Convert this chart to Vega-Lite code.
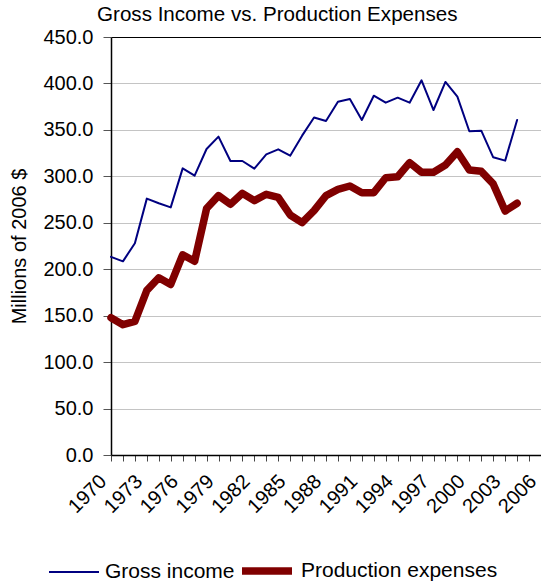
{
  "$schema": "https://vega.github.io/schema/vega-lite/v6.json",
  "width": 430,
  "height": 418,
  "autosize": {"type": "none"},
  "padding": {"left": 111, "top": 37, "right": 0, "bottom": 127},
  "background": "white",
  "config": {
    "font": "Liberation Sans",
    "view": {"stroke": null},
    "legend": {"padding": 0}
  },
  "title": {
    "text": "Gross Income vs. Production Expenses",
    "fontSize": 20.6,
    "fontWeight": "normal",
    "color": "black",
    "anchor": "start",
    "frame": "group",
    "dx": -14,
    "offset": 1
  },
  "data": {
    "values": [
      {"year": 1970, "series": "Gross income", "value": 213.3},
      {"year": 1971, "series": "Gross income", "value": 208.5},
      {"year": 1972, "series": "Gross income", "value": 228.0},
      {"year": 1973, "series": "Gross income", "value": 276.0},
      {"year": 1974, "series": "Gross income", "value": 271.0},
      {"year": 1975, "series": "Gross income", "value": 266.6},
      {"year": 1976, "series": "Gross income", "value": 308.6},
      {"year": 1977, "series": "Gross income", "value": 300.7},
      {"year": 1978, "series": "Gross income", "value": 329.4},
      {"year": 1979, "series": "Gross income", "value": 342.7},
      {"year": 1980, "series": "Gross income", "value": 316.5},
      {"year": 1981, "series": "Gross income", "value": 316.5},
      {"year": 1982, "series": "Gross income", "value": 308.3},
      {"year": 1983, "series": "Gross income", "value": 323.7},
      {"year": 1984, "series": "Gross income", "value": 329.1},
      {"year": 1985, "series": "Gross income", "value": 322.2},
      {"year": 1986, "series": "Gross income", "value": 343.8},
      {"year": 1987, "series": "Gross income", "value": 363.3},
      {"year": 1988, "series": "Gross income", "value": 359.6},
      {"year": 1989, "series": "Gross income", "value": 380.4},
      {"year": 1990, "series": "Gross income", "value": 383.3},
      {"year": 1991, "series": "Gross income", "value": 360.7},
      {"year": 1992, "series": "Gross income", "value": 386.8},
      {"year": 1993, "series": "Gross income", "value": 379.3},
      {"year": 1994, "series": "Gross income", "value": 384.7},
      {"year": 1995, "series": "Gross income", "value": 379.3},
      {"year": 1996, "series": "Gross income", "value": 403.4},
      {"year": 1997, "series": "Gross income", "value": 371.4},
      {"year": 1998, "series": "Gross income", "value": 401.6},
      {"year": 1999, "series": "Gross income", "value": 385.8},
      {"year": 2000, "series": "Gross income", "value": 348.5},
      {"year": 2001, "series": "Gross income", "value": 349.2},
      {"year": 2002, "series": "Gross income", "value": 320.5},
      {"year": 2003, "series": "Gross income", "value": 316.9},
      {"year": 2004, "series": "Gross income", "value": 360.7},
      {"year": 1970, "series": "Production expenses", "value": 147.8},
      {"year": 1971, "series": "Production expenses", "value": 140.3},
      {"year": 1972, "series": "Production expenses", "value": 143.9},
      {"year": 1973, "series": "Production expenses", "value": 177.2},
      {"year": 1974, "series": "Production expenses", "value": 190.8},
      {"year": 1975, "series": "Production expenses", "value": 183.6},
      {"year": 1976, "series": "Production expenses", "value": 215.5},
      {"year": 1977, "series": "Production expenses", "value": 208.5},
      {"year": 1978, "series": "Production expenses", "value": 265.3},
      {"year": 1979, "series": "Production expenses", "value": 279.2},
      {"year": 1980, "series": "Production expenses", "value": 269.9},
      {"year": 1981, "series": "Production expenses", "value": 281.7},
      {"year": 1982, "series": "Production expenses", "value": 273.8},
      {"year": 1983, "series": "Production expenses", "value": 280.7},
      {"year": 1984, "series": "Production expenses", "value": 277.4},
      {"year": 1985, "series": "Production expenses", "value": 258.4},
      {"year": 1986, "series": "Production expenses", "value": 250.1},
      {"year": 1987, "series": "Production expenses", "value": 263.0},
      {"year": 1988, "series": "Production expenses", "value": 279.2},
      {"year": 1989, "series": "Production expenses", "value": 286.0},
      {"year": 1990, "series": "Production expenses", "value": 289.6},
      {"year": 1991, "series": "Production expenses", "value": 282.4},
      {"year": 1992, "series": "Production expenses", "value": 282.4},
      {"year": 1993, "series": "Production expenses", "value": 298.5},
      {"year": 1994, "series": "Production expenses", "value": 299.6},
      {"year": 1995, "series": "Production expenses", "value": 314.7},
      {"year": 1996, "series": "Production expenses", "value": 304.4},
      {"year": 1997, "series": "Production expenses", "value": 304.4},
      {"year": 1998, "series": "Production expenses", "value": 312.2},
      {"year": 1999, "series": "Production expenses", "value": 326.5},
      {"year": 2000, "series": "Production expenses", "value": 306.8},
      {"year": 2001, "series": "Production expenses", "value": 305.4},
      {"year": 2002, "series": "Production expenses", "value": 291.8},
      {"year": 2003, "series": "Production expenses", "value": 262.7},
      {"year": 2004, "series": "Production expenses", "value": 271.0}
    ]
  },
  "mark": {"type": "line", "strokeJoin": "round", "strokeCap": "round"},
  "encoding": {
    "x": {
      "field": "year",
      "type": "quantitative",
      "scale": {"domain": [1970, 2006], "nice": false, "zero": false},
      "axis": {
        "title": null,
        "values": [1970,1971,1972,1973,1974,1975,1976,1977,1978,1979,1980,1981,1982,1983,1984,1985,1986,1987,1988,1989,1990,1991,1992,1993,1994,1995,1996,1997,1998,1999,2000,2001,2002,2003,2004,2005,2006],
        "format": "d",
        "labelExpr": "(datum.value - 1970) % 3 == 0 ? datum.label : ''",
        "labelOverlap": false,
        "labelFlush": false,
        "labelAngle": -45,
        "labelAlign": "right",
        "labelBaseline": "middle",
        "labelPadding": 17,
        "labelOffset": -8,
        "labelFontSize": 20,
        "labelColor": "black",
        "tickSize": 6,
        "tickColor": "#444444",
        "domainColor": "black",
        "domainWidth": 1.5,
        "grid": false
      }
    },
    "y": {
      "field": "value",
      "type": "quantitative",
      "scale": {"domain": [0, 450], "nice": false},
      "axis": {
        "title": "Millions of 2006 $",
        "titleFontSize": 20,
        "titleFontWeight": "normal",
        "titleColor": "black",
        "titleX": -92,
        "titleY": 209,
        "titleAngle": -90,
        "titleAlign": "center",
        "titleBaseline": "middle",
        "values": [0, 50, 100, 150, 200, 250, 300, 350, 400, 450],
        "format": ".1f",
        "labelFontSize": 20,
        "labelColor": "black",
        "labelPadding": 10,
        "tickSize": 8,
        "tickColor": "#555555",
        "domainColor": "black",
        "domainWidth": 1.5,
        "gridColor": {"condition": {"test": "datum.value == 450", "value": "black"}, "value": "#c4c4c4"},
        "gridWidth": 1
      }
    },
    "color": {
      "field": "series",
      "type": "nominal",
      "scale": {"domain": ["Gross income", "Production expenses"], "range": ["#000080", "#800000"]},
      "legend": {
        "title": null,
        "orient": "none",
        "direction": "horizontal",
        "legendX": -63,
        "legendY": 505,
        "symbolType": "stroke",
        "symbolSize": 2500,
        "labelFontSize": 21,
        "labelColor": "black",
        "labelOffset": 5,
        "labelLimit": 400,
        "columnPadding": -8
      }
    },
    "strokeWidth": {
      "field": "series",
      "type": "nominal",
      "scale": {"domain": ["Gross income", "Production expenses"], "range": [2, 7.5]},
      "legend": {
        "title": null,
        "orient": "none",
        "direction": "horizontal",
        "legendX": -63,
        "legendY": 505,
        "symbolType": "stroke",
        "symbolSize": 2500,
        "labelFontSize": 21,
        "labelColor": "black",
        "labelOffset": 5,
        "labelLimit": 400,
        "columnPadding": -8
      }
    }
  }
}
